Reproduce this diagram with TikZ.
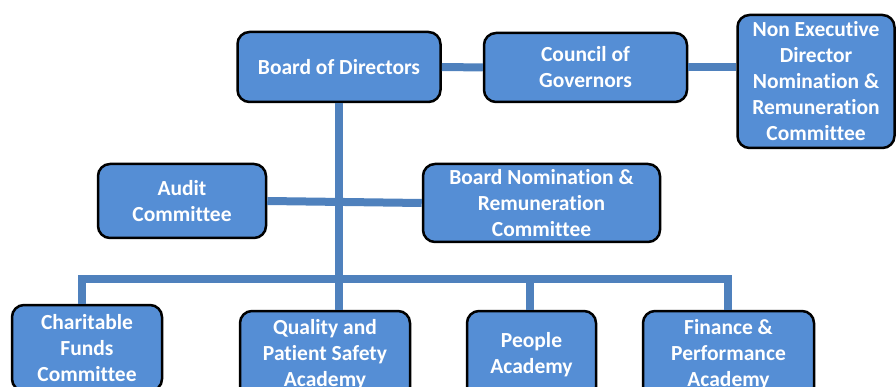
\documentclass[tikz,border=0pt]{standalone}
\usepackage{fontspec}
\setmainfont{Carlito}[Ligatures=NoCommon]
\definecolor{boxblue}{RGB}{85,142,213}
\definecolor{linkblue}{RGB}{79,129,189}

\begin{document}
\begin{tikzpicture}[
            x=1pt, y=-1pt,
            unit/.style={
                rectangle,
                rounded corners=12pt,
                draw=black,
                line width=2.5pt,
                fill=boxblue,
                text=white,
                font=\fontsize{21.5}{26}\selectfont\bfseries,
                align=center,
                inner sep=0pt
            },
            link/.style={
                draw=linkblue,
                line width=8pt
            }
        ]
            \useasboundingbox (0, 0) rectangle (896, 387);

            \node[unit, minimum width=203pt, minimum height=70pt] (board) at (339, 67) {Board of Directors};
            \node[unit, minimum width=203pt, minimum height=69pt] (council) at (585.5, 67.5) {Council of\\Governors};
            \node[unit, minimum width=157pt, minimum height=133pt] (ned) at (816, 81.5)
                {Non Executive\\Director\\Nomination \&\\Remuneration\\Committee};

            \node[unit, minimum width=168pt, minimum height=74pt] (audit) at (182, 201) {Audit\\Committee};
            \node[unit, minimum width=237pt, minimum height=78pt] (bnrc) at (541.5, 203)
                {Board Nomination \&\\Remuneration\\Committee};

            \node[unit, minimum width=150pt, minimum height=86pt] (charity) at (87, 348) {Charitable\\Funds\\Committee};
            \node[unit, minimum width=170pt, minimum height=88pt] (quality) at (325, 355) {Quality and\\Patient Safety\\Academy};
            \node[unit, minimum width=129pt, minimum height=88pt] (people) at (531.5, 355) {People\\Academy};
            \node[unit, minimum width=171pt, minimum height=88pt] (finance) at (728.5, 355) {Finance \&\\Performance\\Academy};

            \coordinate (bus) at (0, 279);

            % top row
            \draw[link] (board) -- (council);
            \draw[link] (council.east) -- (council.east -| ned.west);

            % trunk and committees
            \draw[link] (board.south) -- (board.south |- quality.north);
            \draw[link] (audit.east) -- (bnrc.west);

            % bus to the academies
            \draw[link] ([xshift=-5pt]charity.north) |- ([xshift=-0.5pt]bus -| finance)
                -- ([xshift=-0.5pt]finance.north);
            \draw[link] ([xshift=-1.5pt]people.north) -- ([xshift=-1.5pt]people |- bus);

        \end{tikzpicture}
\end{document}
